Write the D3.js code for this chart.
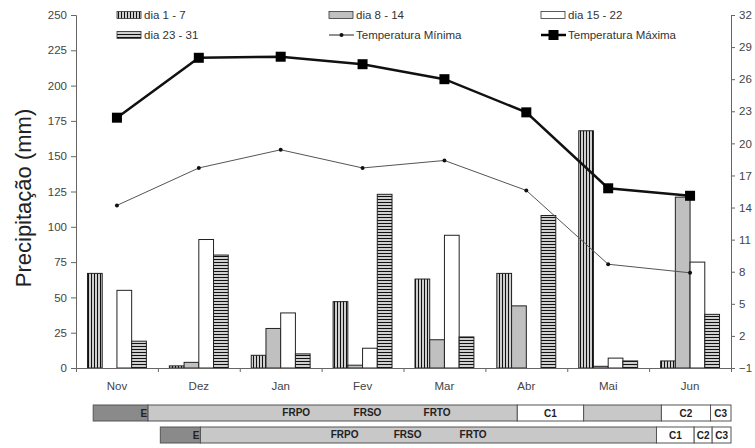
<!DOCTYPE html>
<html>
<head>
<meta charset="utf-8">
<script src="https://cdn.jsdelivr.net/npm/d3@7"></script>
<style>
html,body{margin:0;padding:0;background:#fff;}
svg{display:block;font-family:"Liberation Sans",Arial,sans-serif;}
</style>
</head>
<body>
<svg id="chart" width="755" height="448"></svg>
<script>
// ---- data ----
const months = ["Nov","Dez","Jan","Fev","Mar","Abr","Mai","Jun"];
const seriesNames = ["dia 1 - 7","dia 8 - 14","dia 15 - 22","dia 23 - 31"];
const dia1_7   = [67, 1.5, 9, 47, 63, 67, 168, 5];
const dia8_14  = [0, 4, 28, 2, 20, 44, 1.2, 121];
const dia15_22 = [55, 91, 39, 14, 94, 0, 7, 75];
const dia23_31 = [19, 80, 10, 123, 22, 108, 5, 38];
const tempMin  = [14.2, 17.7, 19.4, 17.7, 18.4, 15.6, 8.7, 7.9];
const tempMax  = [22.4, 28.0, 28.1, 27.4, 26.0, 22.9, 15.8, 15.1];
const leftTicks  = [0,25,50,75,100,125,150,175,200,225,250];
const rightTicks = [-1,2,5,8,11,14,17,20,23,26,29,32];
// phenology phases (in month units from start of Nov)
const phaseRow1 = [
  {label:"E",  stage:"E", start:0.21, end:0.88},
  {label:"",   stage:"F", start:0.88, end:5.39},
  {label:"C1", stage:"C", start:5.39, end:6.20},
  {label:"",   stage:"F", start:6.20, end:7.15},
  {label:"C2", stage:"C", start:7.15, end:7.75},
  {label:"C3", stage:"C", start:7.75, end:8.00}
];
const phaseRow2 = [
  {label:"E",  stage:"E", start:1.03, end:1.52},
  {label:"",   stage:"F", start:1.52, end:7.09},
  {label:"C1", stage:"C", start:7.09, end:7.55},
  {label:"C2", stage:"C", start:7.55, end:7.77},
  {label:"C3", stage:"C", start:7.77, end:8.00}
];
const fLabels = ["FRPO","FRSO","FRTO"];
const fLabelPos1 = [2.69, 3.56, 4.41];
const fLabelPos2 = [3.28, 4.05, 4.85];

// ---- layout ----
const L = 76, R = 731, T = 15, B = 368;
const svg = d3.select("#chart");
const defs = svg.append("defs");

const pv = defs.append("pattern").attr("id","vstripe").attr("patternUnits","userSpaceOnUse")
  .attr("width",3).attr("height",3);
pv.append("rect").attr("width",3).attr("height",3).attr("fill","#fff");
pv.append("rect").attr("x",0.8).attr("width",1.4).attr("height",3).attr("fill","#111");
const ph = defs.append("pattern").attr("id","hstripe").attr("patternUnits","userSpaceOnUse")
  .attr("width",3).attr("height",3);
ph.append("rect").attr("width",3).attr("height",3).attr("fill","#fff");
ph.append("rect").attr("y",0.8).attr("width",3).attr("height",1.4).attr("fill","#111");

const fills = ["url(#vstripe)","#c0c0c0","#ffffff","url(#hstripe)"];
const seriesData = [dia1_7, dia8_14, dia15_22, dia23_31];

const x0 = d3.scaleBand().domain(months).range([L, R]).paddingInner(0).paddingOuter(0);
const x1 = d3.scaleBand().domain(seriesNames).range([0, x0.bandwidth()]).paddingInner(0).paddingOuter(0.78);
const yL = d3.scaleLinear().domain([0,250]).range([B, T]);
const yR = d3.scaleLinear().domain([-1,32]).range([B, T]);
const xt = d3.scaleLinear().domain([0,8]).range([L, R]);

const axisColor = "#666", textColor = "#444";

// bars
const gBars = svg.append("g");
seriesNames.forEach((s, si) => {
  gBars.selectAll(null).data(months.map((m,i)=>({m, v:seriesData[si][i]})).filter(d=>d.v>0))
    .enter().append("rect")
    .attr("x", d => x0(d.m) + x1(s))
    .attr("width", x1.bandwidth())
    .attr("y", d => yL(d.v))
    .attr("height", d => B - yL(d.v))
    .attr("fill", fills[si])
    .attr("stroke", "#222").attr("stroke-width", 1);
});

// left axis
const axL = svg.append("g").attr("transform",`translate(${L},0)`)
  .call(d3.axisLeft(yL).tickValues(leftTicks).tickSize(5).tickPadding(4));
// right axis
const axR = svg.append("g").attr("transform",`translate(${R},0)`)
  .call(d3.axisRight(yR).tickValues(rightTicks).tickSize(4).tickPadding(4));
// bottom axis
const axB = svg.append("g").attr("transform",`translate(0,${B})`)
  .call(d3.axisBottom(xt).tickValues([1,2,3,4,5,6,7,8]).tickSize(4).tickFormat(""));
[axL, axR, axB].forEach(a => {
  a.select(".domain").attr("stroke", axisColor);
  a.selectAll(".tick line").attr("stroke", axisColor);
  a.selectAll(".tick text").attr("fill", textColor).attr("font-size", 11.5)
    .attr("font-family", '"Liberation Sans",Arial,sans-serif');
});
// month labels
svg.append("g").selectAll("text").data(months).enter().append("text")
  .attr("x", d => x0(d) + x0.bandwidth()/2).attr("y", 390)
  .attr("text-anchor","middle").attr("font-size",11.5).attr("fill",textColor).text(d=>d);

// temperature lines
const cx = (i) => x0(months[i]) + x0.bandwidth()/2;
const lineT = d3.line().x((d,i)=>cx(i)).y(d=>yR(d));
svg.append("path").attr("d", lineT(tempMin)).attr("fill","none")
  .attr("stroke","#555").attr("stroke-width",1);
svg.append("g").selectAll("circle").data(tempMin).enter().append("circle")
  .attr("cx",(d,i)=>cx(i)).attr("cy",d=>yR(d)).attr("r",2).attr("fill","#111");
svg.append("path").attr("d", lineT(tempMax)).attr("fill","none")
  .attr("stroke","#111").attr("stroke-width",2.5);
svg.append("g").selectAll("rect").data(tempMax).enter().append("rect")
  .attr("x",(d,i)=>cx(i)-5).attr("y",d=>yR(d)-5).attr("width",10).attr("height",10).attr("fill","#000");

// y title
svg.append("text").attr("transform","translate(31,198) rotate(-90)")
  .attr("text-anchor","middle").attr("font-size",22).attr("fill","#222")
  .text("Precipitação (mm)");

// legend
const legend = [
  {label:seriesNames[0], type:"bar", fill:fills[0], x:117, y:15},
  {label:seriesNames[1], type:"bar", fill:fills[1], x:329, y:15},
  {label:seriesNames[2], type:"bar", fill:fills[2], x:541, y:15},
  {label:seriesNames[3], type:"bar", fill:fills[3], x:117, y:35},
  {label:"Temperatura Mínima", type:"min", x:329, y:35},
  {label:"Temperatura Máxima", type:"max", x:541, y:35}
];
const gl = svg.append("g");
legend.forEach(d => {
  if (d.type === "bar") {
    gl.append("rect").attr("x",d.x).attr("y",d.y-3.5).attr("width",24).attr("height",7)
      .attr("fill",d.fill).attr("stroke","#333").attr("stroke-width",0.8);
  } else if (d.type === "min") {
    gl.append("line").attr("x1",d.x).attr("x2",d.x+25).attr("y1",d.y).attr("y2",d.y)
      .attr("stroke","#222").attr("stroke-width",1);
    gl.append("circle").attr("cx",d.x+12.5).attr("cy",d.y).attr("r",2).attr("fill","#111");
  } else {
    gl.append("line").attr("x1",d.x).attr("x2",d.x+25).attr("y1",d.y).attr("y2",d.y)
      .attr("stroke","#000").attr("stroke-width",2.5);
    gl.append("rect").attr("x",d.x+7.5).attr("y",d.y-5).attr("width",10).attr("height",10).attr("fill","#000");
  }
  gl.append("text").attr("x",d.x+27).attr("y",d.y+4).attr("font-size",11.5).attr("fill","#333").text(d.label);
});

// phenology rows
const stageFill = {E:"#8a8a8a", F:"#c8c8c8", C:"#ffffff"};
function drawRow(phases, y, h, fpos) {
  const g = svg.append("g");
  g.selectAll("rect").data(phases).enter().append("rect")
    .attr("x", d => xt(d.start)).attr("width", d => xt(d.end) - xt(d.start))
    .attr("y", y).attr("height", h)
    .attr("fill", d => stageFill[d.stage]).attr("stroke","#555").attr("stroke-width",1);
  g.selectAll("text.ph").data(phases.filter(d=>d.label)).enter().append("text")
    .attr("class","ph")
    .attr("x", d => d.stage === "E" ? xt(d.end) - 1 : (xt(d.start)+xt(d.end))/2)
    .attr("text-anchor", d => d.stage === "E" ? "end" : "middle")
    .attr("y", y + h/2 + 3.5).attr("font-size",10).attr("font-weight","bold").attr("fill","#222")
    .text(d => d.label);
  g.selectAll("text.fl").data(fLabels).enter().append("text").attr("class","fl")
    .attr("x",(d,i)=>xt(fpos[i])).attr("y", y + h/2 + 3).attr("text-anchor","middle")
    .attr("font-size",10).attr("font-weight","bold").attr("fill","#222").text(d=>d);
}
drawRow(phaseRow1, 405, 16, fLabelPos1);
drawRow(phaseRow2, 427, 16, fLabelPos2);
</script>
</body>
</html>
